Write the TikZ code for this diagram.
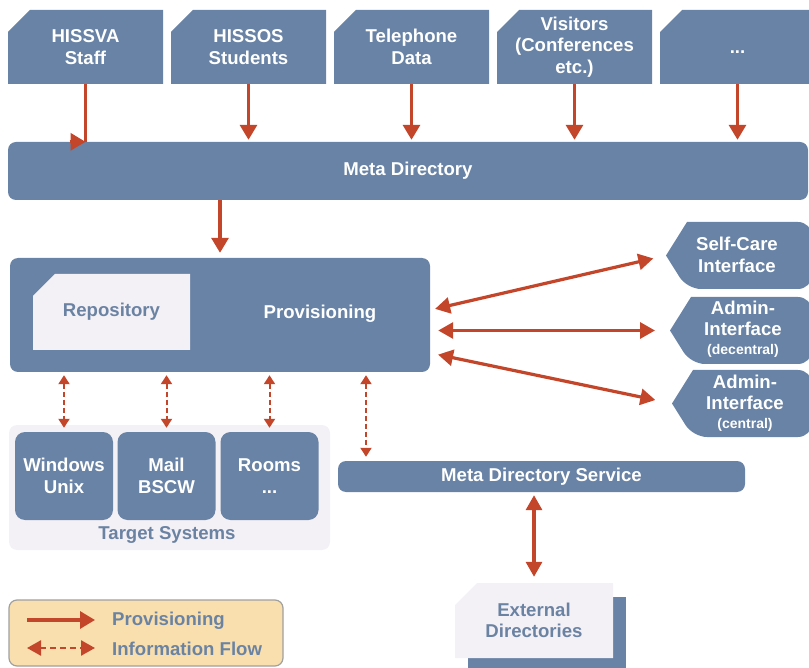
\documentclass[tikz,border=0pt]{standalone}
\usepackage{fontspec}
\setmainfont{Liberation Sans}
\usetikzlibrary{arrows.meta}

\definecolor{boxblue}{RGB}{104,131,165}
\definecolor{flowred}{RGB}{196,70,42}
\definecolor{paper}{RGB}{244,241,246}
\definecolor{labelgrey}{RGB}{107,131,163}
\definecolor{legendbg}{RGB}{249,223,174}
\definecolor{legendline}{RGB}{160,160,160}

\tikzset{
	txt/.style={font=\bfseries\fontsize{18.6}{21.5}\selectfont, align=center, text=white, inner sep=0pt},
	% box with its top left corner cut off
	cutbox/.style={txt, rectangle, path picture={
		\fill[#1] (path picture bounding box.south west)
			-- ([yshift=-22pt]path picture bounding box.north west)
			-- ([xshift=22pt]path picture bounding box.north west)
			-- (path picture bounding box.north east)
			-- (path picture bounding box.south east) -- cycle;}},
	srcbox/.style={cutbox=boxblue, minimum width=155pt, minimum height=74pt},
	storebox/.style={cutbox=paper, text=labelgrey},
	bar/.style={txt, rectangle, rounded corners=8pt, fill=boxblue},
	tgtbox/.style={bar, rounded corners=10pt, minimum width=98pt, minimum height=88pt},
	flowline/.style={draw=flowred, line width=3.2pt},
	flow/.style={flowline, -{Triangle[length=15pt,width=17pt]}},
	twoway/.style={flowline, {Triangle[length=15pt,width=16pt]}-{Triangle[length=15pt,width=16pt]}},
	info/.style={draw=flowred, line width=2pt, dash pattern=on 5pt off 3pt,
		{Triangle[length=9pt,width=11pt]}-{Triangle[length=9pt,width=11pt]}}
}

\begin{document}
\begin{tikzpicture}[x=1pt, y=-1pt]
	\useasboundingbox (0,0) rectangle (809,668);
	% Data sources
	\node[srcbox] (staff) at (85.5,47) {HISSVA\\Staff};
	\node[srcbox] (students) at (248.5,47) {HISSOS\\Students};
	\node[srcbox] (phone) at (411.5,47) {Telephone\\Data};
	\node[srcbox] (visitors) at (574.5,47) {Visitors\\(Conferences\\etc.)};
	\node[srcbox] (more) at (737.5,47) {\vphantom{H}...};
	%
	\node[bar, minimum width=800pt, minimum height=58pt] (meta) at (408,171) {Meta Directory};
	%
	\node[bar, minimum width=420pt, minimum height=114pt] (prov) at (220,315) {};
	\node[txt] (provlbl) at (320,314) {Provisioning};
	\node[storebox, minimum width=157pt, minimum height=76pt] (repo) at (111.5,312) {Repository};
	% Interfaces on the right
	\foreach \n/\t/\b/\tip in {selfcare/222/289/666, admindec/297/364/670, admincen/370/437/672} {
		\fill[boxblue] (\tip+21,\t) [rounded corners=14pt] -- (812,\t) -- (812,\b) -- (\tip+21,\b) [sharp corners] -- (\tip,{(\t+\b)/2}) -- cycle;
		\coordinate (\n) at (\tip,{(\t+\b)/2});
	}
	\node[txt] (selfcarelbl) at (737,255) {Self-Care\\Interface};
	\node[txt] (admindeclbl) at (743,329) {Admin-\\Interface\\[-3pt]{\fontsize{14}{16}\selectfont (decentral)}};
	\node[txt] (admincenlbl) at (745,403) {Admin-\\Interface\\[-3pt]{\fontsize{14}{16}\selectfont (central)}};
	% Target systems
	\node[fill=paper, rounded corners=8pt, minimum width=321pt, minimum height=125pt] (targets) at (169.5,487.5) {};
	\node[tgtbox] (win) at (64,476) {Windows\\Unix};
	\node[tgtbox] (mail) at (166.5,476) {Mail\\BSCW};
	\node[tgtbox] (rooms) at (269.5,476) {Rooms\\...};
	\node[txt, text=labelgrey] (tgtlbl) at (167,535) {Target Systems};
	%
	\node[bar, minimum width=407pt, minimum height=31pt] (mds) at (541.5,476.5) {Meta Directory Service};
	\fill[boxblue] (468,597) rectangle (626,690);
	\node[storebox, minimum width=158pt, minimum height=75pt] (ext) at (534,620.5) {External\\Directories};
	% Legend
	\node[draw=legendline, line width=1.2pt, fill=legendbg, rounded corners=8pt,
		minimum width=274pt, minimum height=66pt] (legend) at (146,633) {};
	\coordinate (key1a) at (27,620); \coordinate (key1b) at (95,620);
	\coordinate (key2a) at (27,648); \coordinate (key2b) at (95,648);
	\node[txt, text=labelgrey, anchor=west] (provkey) at (112,621) {Provisioning};
	\node[txt, text=labelgrey, anchor=west] (infokey) at (112,649) {Information Flow};
	% Drawing the arrows
	%% Sources into the meta directory
	\coordinate (staffin) at (staff.south |- meta.north);
	\draw[flowline] (staff.south) -- (staffin);
	\draw[flow] ([xshift=-16pt]staffin) -- (staffin);
	\foreach \src in {students, phone, visitors, more}
		\draw[flow, shorten >=2pt] (\src.south) -- (\src.south |- meta.north);
	\draw[flow, shorten >=5pt] (meta.south -| prov.north) -- (prov.north);
	%% Provisioning to interfaces
	\draw[twoway, shorten <=5pt, shorten >=13pt] ([yshift=5pt]prov.east) -- (selfcare);
	\draw[twoway, shorten <=8pt, shorten >=15pt] (prov.east |- admindec) -- (admindec);
	\draw[twoway, shorten <=8pt, shorten >=17pt] ([yshift=-38pt]prov.east) -- (admincen);
	%% Information flow
	\foreach \t in {win, mail, rooms}
		\draw[info, shorten <=3pt, shorten >=4pt] (prov.south -| \t.north) -- (\t.north);
	\coordinate (mdsin) at ([xshift=-175.5pt]mds.north);
	\draw[info, shorten <=3pt, shorten >=4pt] (prov.south -| mdsin) -- (mdsin);
	\draw[twoway, shorten <=3pt, shorten >=6pt] (mds.south -| ext.north) -- (ext.north);
	%% Legend keys
	\draw[flow] (key1a) -- (key1b);
	\draw[info, line width=2.5pt, dash pattern=on 6pt off 4pt,
		{Triangle[length=14pt,width=15pt]}-{Triangle[length=14pt,width=15pt]}] (key2a) -- (key2b);
\end{tikzpicture}
\end{document}
